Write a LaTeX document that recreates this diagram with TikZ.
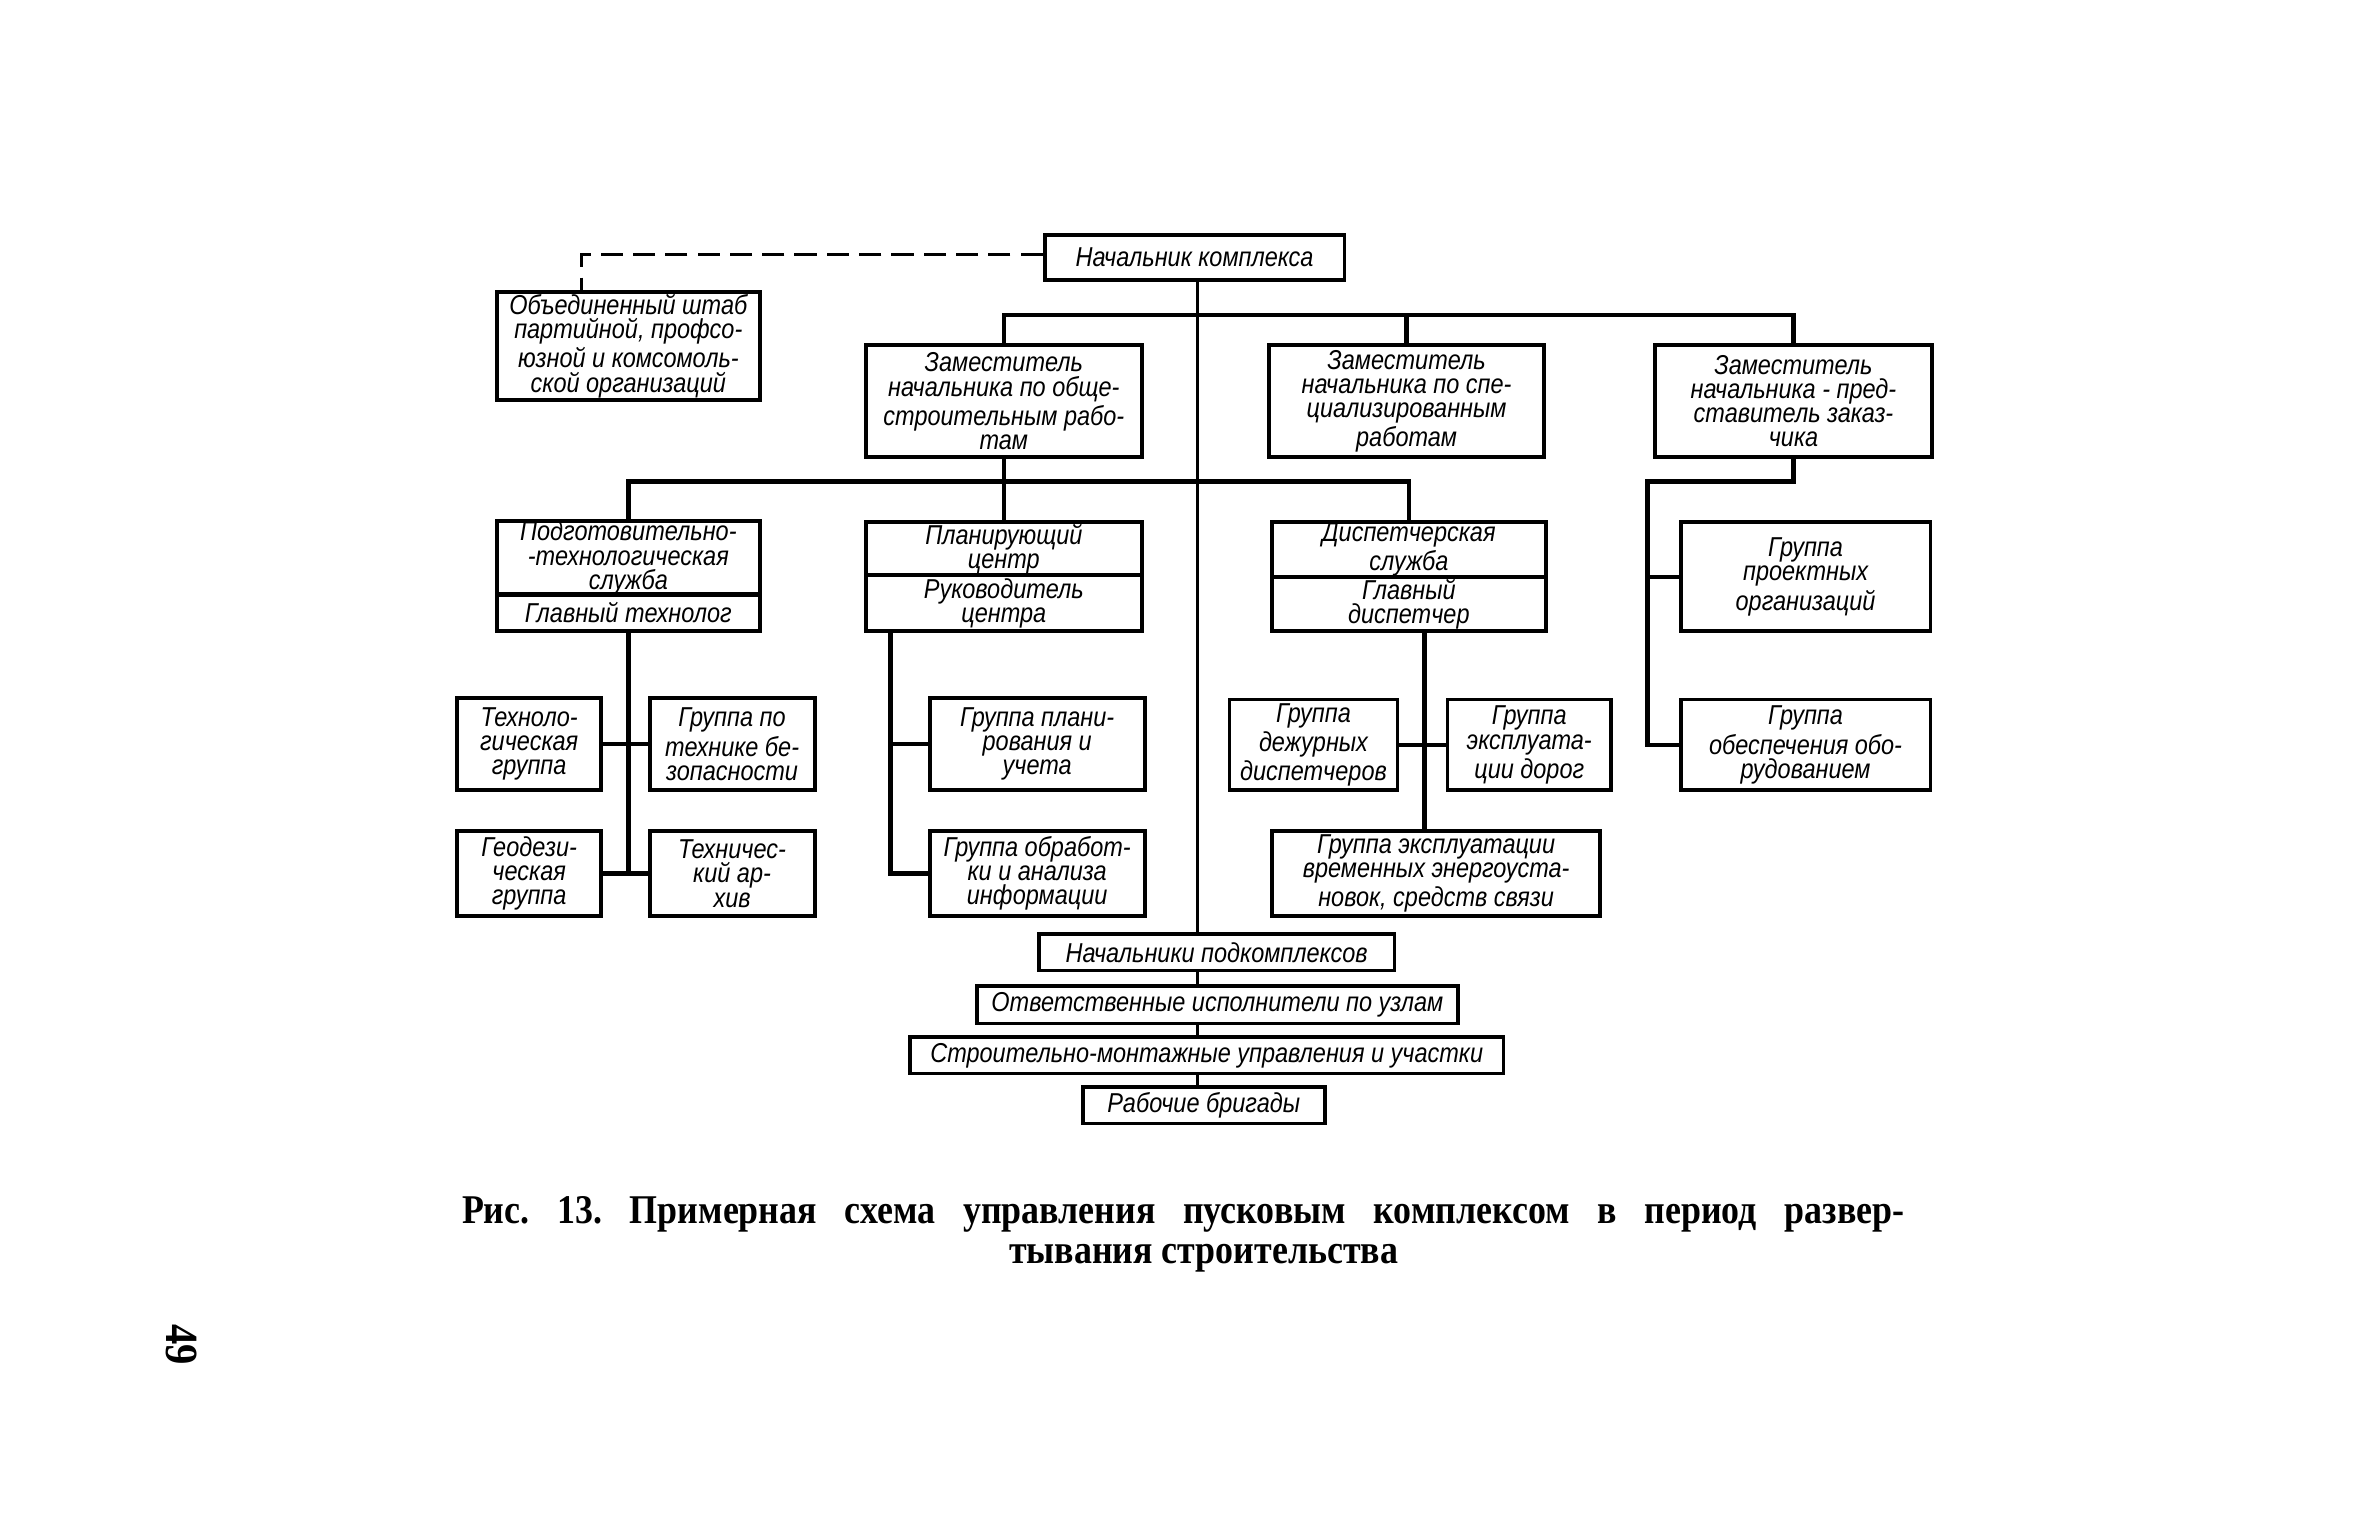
\documentclass[tikz,border=0pt]{standalone}
\usepackage{fontspec}
\newfontfamily\drafting[FakeStretch=0.86]{Liberation Sans}
\newfontfamily\capfont[FakeStretch=0.88]{Liberation Serif}
\usetikzlibrary{calc}

\tikzset{
  box/.style={draw, line width=1.1pt, inner sep=0pt, align=center,
    font=\drafting\itshape\fontsize{7.7pt}{6.8pt}\selectfont},
  boxsize/.style 2 args={minimum width=#1*0.15mm, minimum height=#2*0.15mm},
  link/.style={line width=1.3pt},
  trunkline/.style={line width=0.8pt},
  dashline/.style={line width=1pt, dash pattern=on 2.2mm off 1mm},
}

\begin{document}
\begin{tikzpicture}[x=0.15mm, y=-0.15mm]

  \path[fill=white] (0,0) rectangle (1560,1014);

  % top level
  \node[box, boxsize={198}{30}] (chief) at (789,170) {Начальник комплекса};
  \node[box, boxsize={174}{71}] (shtab) at (415,228.5)
    {Объединенный штаб\\партийной, профсо-\\юзной и комсомоль-\\ской организаций};

  \node[box, boxsize={182}{74}] (zam1) at (663,265)
    {Заместитель\\начальника по обще-\\строительным рабо-\\там};
  \node[box, boxsize={182}{74}] (zam2) at (929,265)
    {Заместитель\\начальника по спе-\\циализированным\\работам};
  \node[box, boxsize={183}{74}] (zam3) at (1184.5,265)
    {Заместитель\\начальника - пред-\\ставитель заказ-\\чика};

  % services
  \node[box, boxsize={174}{47}] (podgT) at (415,368.5)
    {Подготовительно-\\-технологическая\\служба};
  \node[box, boxsize={174}{25}] (podgB) at (415,404.5) {Главный технолог};
  \node[box, boxsize={182}{35}] (planT) at (663,362.5) {Планирующий\\центр};
  \node[box, boxsize={182}{37}] (planB) at (663,398.5) {Руководитель\\центра};
  \node[box, boxsize={181}{36}] (dispT) at (930.5,363) {Диспетчерская\\служба};
  \node[box, boxsize={181}{36}] (dispB) at (930.5,399) {Главный\\диспетчер};
  \node[box, boxsize={165}{72}] (proekt) at (1192.5,381)
    {Группа\\проектных\\организаций};

  % groups
  \node[box, boxsize={95}{61}] (tehgr) at (349.5,491.5) {Техноло-\\гическая\\группа};
  \node[box, boxsize={109}{61}] (tb) at (483.5,491.5) {Группа по\\технике бе-\\зопасности};
  \node[box, boxsize={95}{56}] (geo) at (349.5,577) {Геодези-\\ческая\\группа};
  \node[box, boxsize={109}{56}] (arhiv) at (483.5,577) {Техничес-\\кий ар-\\хив};
  \node[box, boxsize={142}{61}] (planuch) at (685,491.5)
    {Группа плани-\\рования и\\учета};
  \node[box, boxsize={142}{56}] (obrab) at (685,577)
    {Группа обработ-\\ки и анализа\\информации};
  \node[box, boxsize={111}{60}] (dezh) at (867.5,492) {Группа\\дежурных\\диспетчеров};
  \node[box, boxsize={108}{60}] (dorog) at (1010,492) {Группа\\эксплуата-\\ции дорог};
  \node[box, boxsize={217}{56}] (energ) at (948.5,577)
    {Группа эксплуатации\\временных энергоуста-\\новок, средств связи};
  \node[box, boxsize={165}{60}] (obesp) at (1192.5,492)
    {Группа\\обеспечения обо-\\рудованием};

  % lower chain
  \node[box, boxsize={235}{24}] (podkompl) at (803.5,629) {Начальники подкомплексов};
  \node[box, boxsize={318}{25}] (otvet) at (804,663.5) {Ответственные исполнители по узлам};
  \node[box, boxsize={392}{24}] (smu) at (797,697) {Строительно-монтажные управления и участки};
  \node[box, boxsize={160}{24}] (brig) at (795,730) {Рабочие бригады};

  % connectors
  \coordinate (trunk) at (791,0);
  \coordinate (bus1) at (791,208);
  \coordinate (bus2) at (660,318);
  \coordinate (spine3) at (1088,318);
  \coordinate (planspine) at (588,0);
  \coordinate (dspine) at (941,0);
  \coordinate (dashcorner) at (384,168);

  \draw[dashline] (chief.west |- dashcorner) -- (dashcorner) -- (dashcorner |- shtab.north);
  \draw[trunkline] (chief.south -| trunk) -- (podkompl.north -| trunk);

  \draw[link] (zam1.north) -- (zam1.north |- bus1) -- (zam3.north |- bus1) -- (zam3.north);
  \draw[link] (zam2.north) -- (zam2.north |- bus1);

  \draw[link] (zam1.south) -- (zam1.south |- bus2);
  \draw[link] (podgT.north) -- (podgT.north |- bus2) -- (dispT.north |- bus2) -- (dispT.north);
  \draw[link] (planT.north) -- (planT.north |- bus2);

  \draw[link] (zam3.south) -- (zam3.south |- spine3) -- (spine3) -- (spine3 |- obesp.west) -- (obesp.west);
  \draw[link] (proekt.west) -- (proekt.west -| spine3);

  \draw[link] (podgB.south) -- (podgB.south |- geo.east);
  \draw[link] (tehgr.east) -- (tb.west);
  \draw[link] (geo.east) -- (arhiv.west);

  \draw[link] (planB.south -| planspine) -- (obrab.west -| planspine) -- (obrab.west);
  \draw[link] (planuch.west) -- (planuch.west -| planspine);

  \draw[link] (dispB.south -| dspine) -- (energ.north -| dspine);
  \draw[link] (dezh.east) -- (dorog.west);

  \foreach \a/\b in {podkompl/otvet, otvet/smu, smu/brig}
    \draw[trunkline] (\a.south -| trunk) -- (\b.north -| trunk);

  % caption
  \node[inner sep=0pt, font=\capfont\bfseries\fontsize{11.5pt}{13pt}\selectfont] (cap1) at (781.5,802)
    {\frenchspacing\makebox[142.9mm][s]{Рис. 13. Примерная схема управления пусковым комплексом в период развер-}};
  \node[inner sep=0pt, font=\capfont\bfseries\fontsize{11.5pt}{13pt}\selectfont] (cap2) at (795,831)
    {тывания строительства};
  \node[inner sep=0pt, rotate=-90, font=\capfont\bfseries\fontsize{13pt}{13pt}\selectfont] (pagenum) at (120,888) {49};

\end{tikzpicture}
\end{document}
